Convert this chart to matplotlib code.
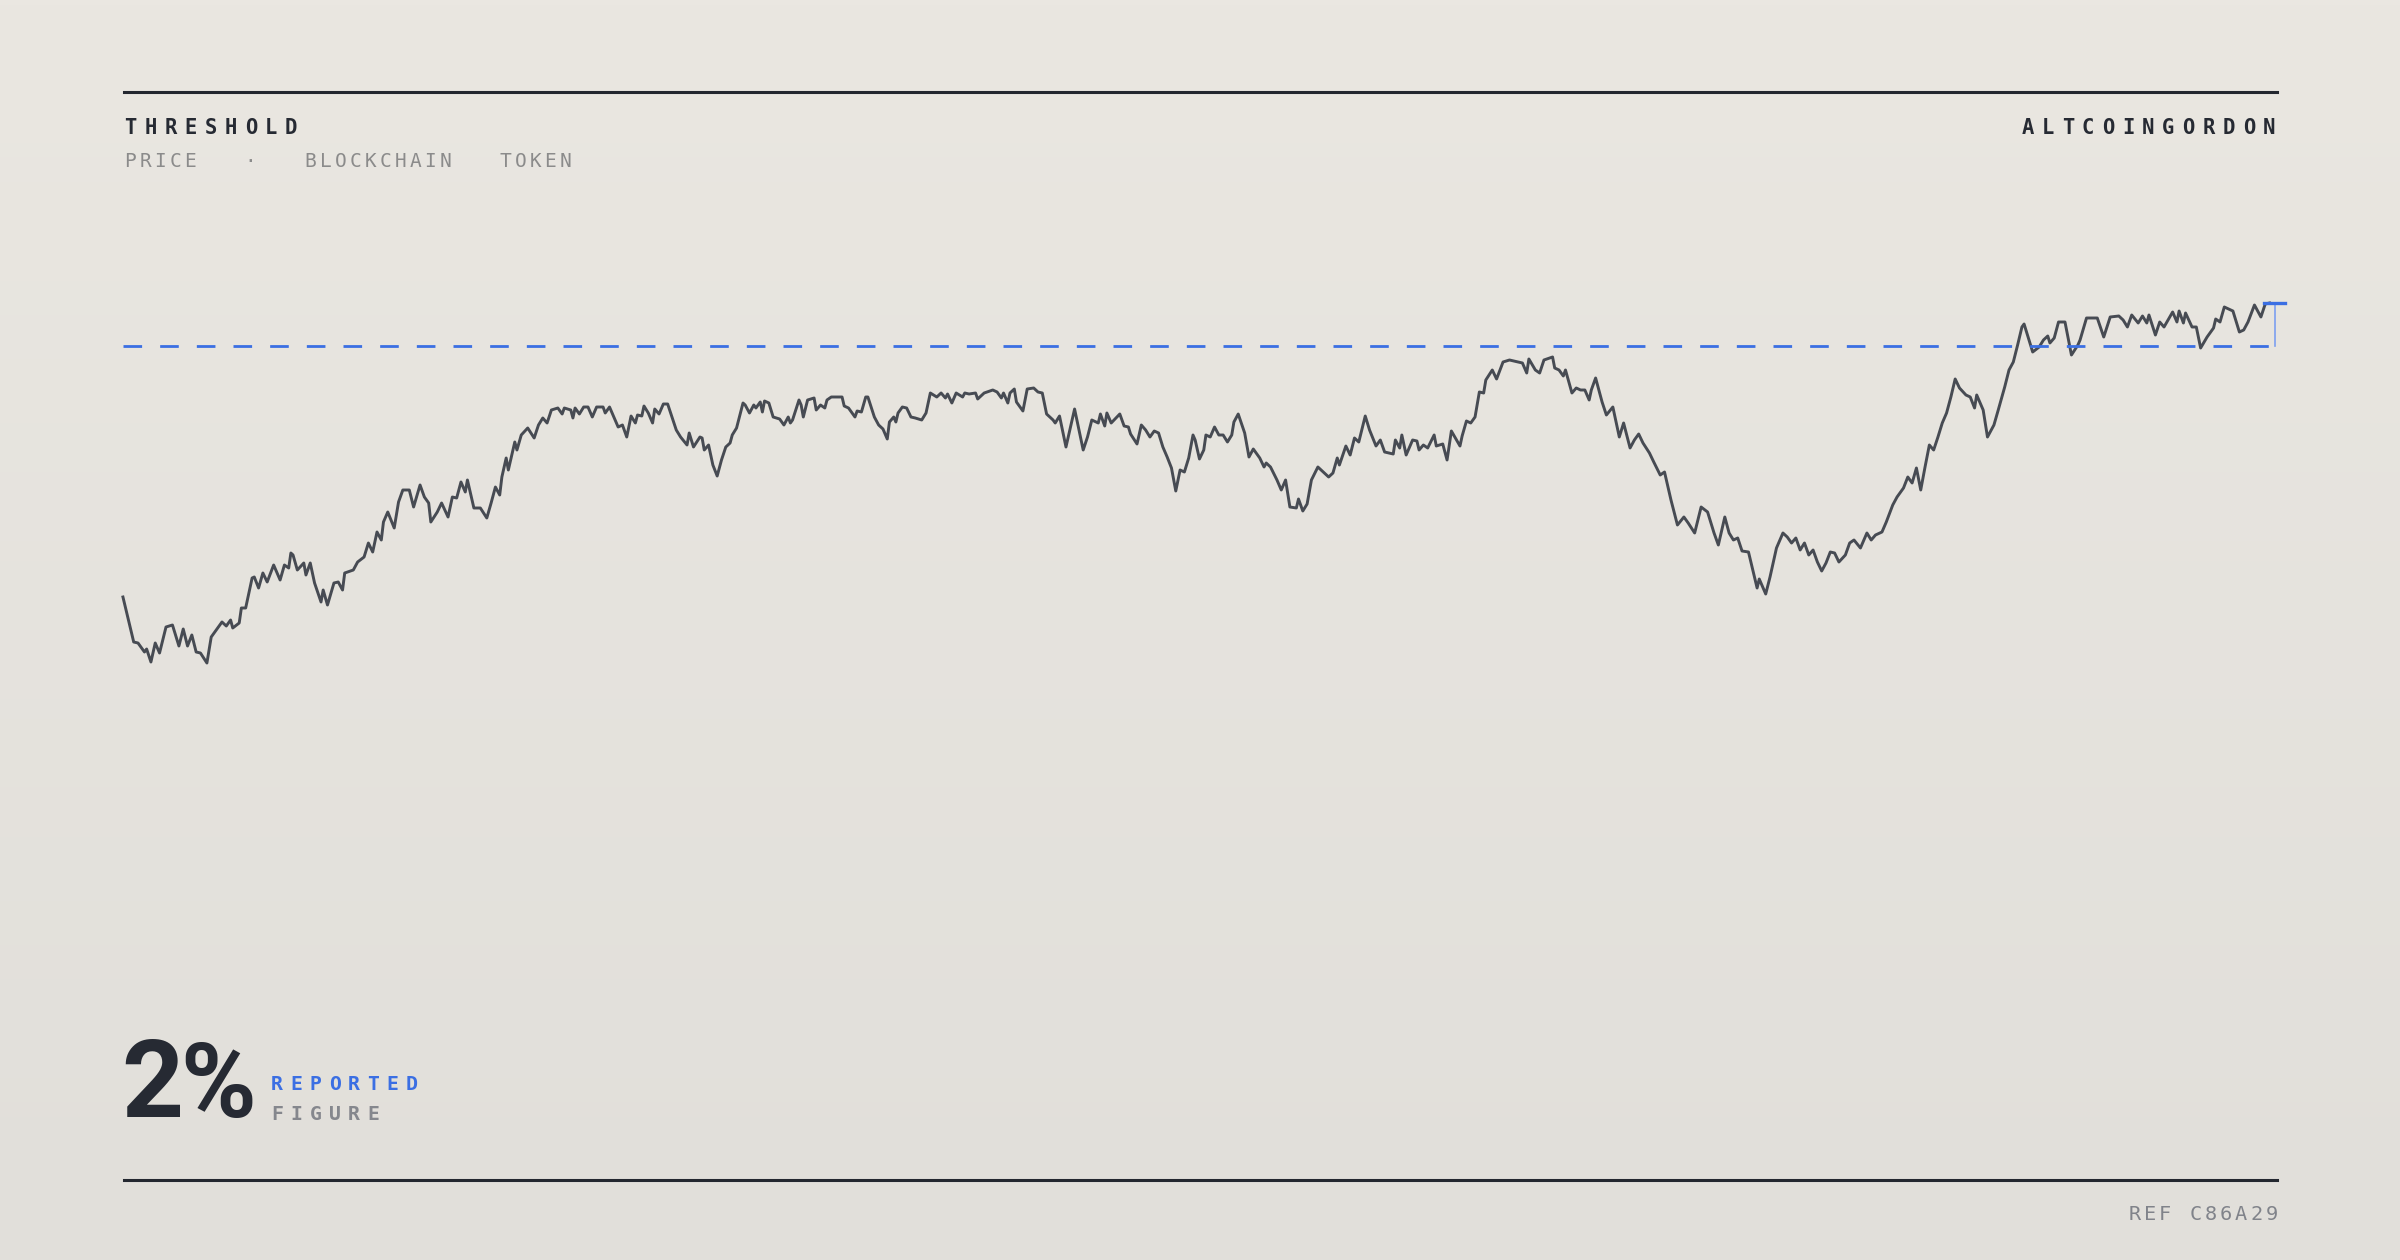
import matplotlib
matplotlib.use("Agg")
import matplotlib.pyplot as plt
import numpy as np

W, H = 2400, 1260

# price readings (day index, price) taken off the chart
days_rise = [
    0, 5, 7, 10, 11, 13, 15, 17, 20, 23,
    26, 28, 30, 32, 34, 36, 39, 41, 44, 46,
    48, 50, 51, 54, 55, 57, 60, 61, 63, 65,
    67, 70, 73, 75, 77, 78, 79, 81, 84, 85,
    87, 89, 92, 93, 95, 98, 100, 102, 103, 107,
    109, 112, 114, 116, 118, 120, 121, 123, 126, 128,
    130, 133, 135, 138, 140, 142, 143, 146, 148, 151,
    153, 155, 157, 159, 160, 163, 166, 169, 171, 173,
    175, 176, 178, 179, 182, 183, 185, 188, 191, 193,
    195, 197, 199, 202, 204, 205, 208, 209, 210, 212,
    214, 216, 218, 220, 223, 224, 226, 230, 232, 234,
    236, 238, 239, 241, 242, 244, 246, 247, 249, 251,
]
price_rise = [
    1899, 1854, 1853, 1844, 1847, 1834, 1853, 1843, 1869, 1871,
    1850, 1867, 1850, 1861, 1844, 1843, 1833, 1859, 1868, 1874,
    1870, 1876, 1868, 1873, 1888, 1888, 1918, 1919, 1908, 1923,
    1914, 1931, 1916, 1931, 1928, 1943, 1941, 1926, 1933, 1921,
    1933, 1913, 1894, 1906, 1891, 1913, 1914, 1906, 1923, 1926,
    1934, 1939, 1953, 1944, 1964, 1956, 1974, 1984, 1968, 1994,
    2006, 2006, 1989, 2011, 1999, 1993, 1974, 1984, 1993, 1979,
    1999, 1998, 2014, 2004, 2016, 1988, 1988, 1978, 1993, 2009,
    2001, 2019, 2038, 2026, 2054, 2046, 2061, 2068, 2058, 2071,
    2078, 2073, 2086, 2088, 2082, 2088, 2086, 2078, 2088, 2082,
    2089, 2089, 2079, 2089, 2089, 2083, 2089, 2069, 2071, 2059,
    2080, 2073, 2081, 2080, 2090, 2083, 2073, 2087, 2082, 2092,
]

days_range = [
    253, 257, 259, 262, 263, 265, 268, 269, 270, 272,
    274, 276, 278, 280, 282, 283, 285, 288, 289, 291,
    293, 294, 296, 297, 298, 300, 302, 305, 307, 309,
    310, 311, 314, 315, 316, 318, 321, 322, 324, 326,
    327, 329, 334, 335, 337, 340, 341, 343, 345, 346,
    349, 351, 353, 355, 356, 358, 359, 360, 362, 364,
    366, 368, 371, 373, 375, 378, 380, 382, 383, 385,
    387, 390, 391, 393, 396, 397, 400, 404, 406, 408,
    409, 411, 412, 414, 415, 418, 420, 423, 425, 427,
    429, 432, 433, 435, 438, 442, 446, 448, 450, 453,
    454, 456, 457, 459, 463, 465, 467, 468, 471, 473,
    475, 477, 479, 481, 483, 485, 487, 489, 491, 493,
    495, 497, 498, 500, 502, 503, 505, 507,
]
price_range = [
    2092, 2066, 2059, 2051, 2063, 2049, 2059, 2058, 2046, 2051,
    2031, 2020, 2036, 2049, 2053, 2061, 2068, 2093, 2091, 2083,
    2091, 2088, 2094, 2084, 2095, 2093, 2079, 2077, 2071, 2079,
    2073, 2076, 2096, 2091, 2079, 2096, 2098, 2086, 2091, 2088,
    2096, 2099, 2099, 2090, 2088, 2079, 2085, 2084, 2099, 2099,
    2079, 2071, 2067, 2057, 2074, 2079, 2074, 2083, 2089, 2088,
    2079, 2078, 2076, 2083, 2103, 2099, 2103, 2098, 2102, 2093,
    2103, 2099, 2103, 2102, 2103, 2097, 2103, 2106, 2104, 2098,
    2103, 2093, 2103, 2107, 2094, 2085, 2107, 2108, 2104, 2103,
    2082, 2076, 2073, 2080, 2049, 2087, 2046, 2059, 2076, 2073,
    2082, 2070, 2083, 2073, 2082, 2070, 2069, 2062, 2052, 2071,
    2066, 2059, 2065, 2063, 2049, 2039, 2028, 2005, 2026, 2024,
    2038, 2061, 2056, 2037, 2046, 2061, 2059, 2069,
]

days_slide = [
    509, 511, 513, 515, 516, 518, 521, 523, 525, 528,
    530, 531, 533, 536, 538, 540, 542, 545, 546, 548,
    550, 552, 555, 557, 560, 562, 564, 565, 568, 570,
    572, 574, 577, 579, 582, 584, 586, 590, 591, 593,
    594, 596, 599, 601, 602, 604, 606, 609, 610, 613,
    615, 617, 621, 622, 624, 626, 628, 630, 632, 633,
    636, 638, 641, 644, 648, 650, 652, 653, 656, 658,
    660, 664, 665, 667, 669, 670, 673, 675, 677, 679,
    681, 682, 684, 687, 689, 692, 695, 697, 700, 702,
    704, 706, 709, 711, 714, 716, 719, 722, 725, 727,
    730, 733, 736, 739, 741, 744, 746, 748, 750, 752,
    755, 759, 760, 763, 765,
]
price_slide = [
    2061, 2061, 2054, 2061, 2074, 2082, 2063, 2039, 2047, 2038,
    2029, 2033, 2029, 2016, 2006, 2016, 1989, 1988, 1997, 1985,
    1992, 2016, 2029, 2025, 2019, 2023, 2038, 2031, 2050, 2041,
    2058, 2054, 2080, 2066, 2050, 2056, 2044, 2042, 2056, 2048,
    2061, 2041, 2056, 2055, 2046, 2051, 2048, 2061, 2050, 2052,
    2036, 2065, 2050, 2060, 2075, 2073, 2079, 2104, 2103, 2116,
    2126, 2117, 2134, 2136, 2134, 2133, 2123, 2137, 2126, 2123,
    2136, 2139, 2128, 2126, 2120, 2126, 2103, 2108, 2106, 2106,
    2096, 2106, 2118, 2094, 2081, 2089, 2059, 2073, 2048, 2056,
    2062, 2053, 2043, 2034, 2021, 2024, 1996, 1971, 1979, 1973,
    1963, 1989, 1984, 1963, 1951, 1979, 1963, 1956, 1958, 1945,
    1944, 1908, 1917, 1902, 1919,
]

days_breakout = [
    768, 771, 773, 775, 777, 779, 781, 783, 785, 787,
    789, 791, 793, 795, 797, 800, 802, 804, 807, 810,
    812, 814, 817, 819, 822, 824, 827, 829, 831, 833,
    835, 837, 839, 841, 843, 845, 847, 849, 851, 853,
    856, 858, 860, 861, 864, 866, 869, 871, 874, 876,
    878, 880, 882, 883, 885, 887, 890, 892, 894, 895,
    897, 899, 902, 905, 908, 909, 912, 917, 920, 923,
    927, 929, 931, 933, 936, 938, 940, 941, 944, 946,
    948, 952, 954, 955, 957, 958, 961, 963, 965, 968,
    971, 972, 974, 976, 980, 983, 985, 987, 990, 993,
    995, 997,
]
price_breakout = [
    1948, 1963, 1959, 1953, 1958, 1946, 1953, 1941, 1946, 1934,
    1925, 1933, 1944, 1943, 1934, 1941, 1953, 1956, 1948, 1963,
    1956, 1961, 1964, 1974, 1991, 1999, 2008, 2019, 2013, 2028,
    2006, 2029, 2051, 2046, 2059, 2073, 2083, 2099, 2117, 2108,
    2101, 2099, 2088, 2101, 2086, 2059, 2071, 2086, 2109, 2126,
    2134, 2151, 2169, 2172, 2158, 2144, 2149, 2156, 2160, 2153,
    2158, 2174, 2174, 2141, 2151, 2156, 2178, 2178, 2159, 2179,
    2180, 2176, 2169, 2181, 2173, 2180, 2173, 2181, 2161, 2174,
    2169, 2184, 2174, 2185, 2173, 2183, 2169, 2169, 2148, 2159,
    2168, 2177, 2174, 2189, 2185, 2164, 2166, 2174, 2191, 2179,
    2192, 2193,
]

threshold = 2150
title = "THRESHOLD"
subtitle = "PRICE   \u00b7   BLOCKCHAIN   TOKEN"
brand = "ALTCOINGORDON"
ref_code = "REF C86A29"

days = days_rise + days_range + days_slide + days_breakout
price = price_rise + price_range + price_slide + price_breakout
assert len(days) == len(price)
pct = round((price[-1] - threshold) / threshold * 100)

ink = "#262a33"
grey = "#85878d"
blue = "#3b6fe3"
mono = "DejaVu Sans Mono"

fig = plt.figure(figsize=(12, 6.3), dpi=200)

# soft vertical background gradient
bg = fig.add_axes([0, 0, 1, 1])
grad = np.linspace(0, 1, 256).reshape(-1, 1)
top_c = np.array([0xea, 0xe7, 0xe1]) / 255
bot_c = np.array([0xe1, 0xdf, 0xda]) / 255
img = top_c[None, None, :] * (1 - grad[:, :, None]) + bot_c[None, None, :] * grad[:, :, None]
bg.imshow(img, aspect="auto", extent=[0, 1, 0, 1])
bg.set_axis_off()

ax = fig.add_axes([0, 0, 1, 1])
ax.patch.set_alpha(0)
ax.set_xlim(-57.1, 1057.6)
ax.set_ylim(1236, 2496)
ax.set_axis_off()

ax.plot(days, price, color="#474b53", lw=1.05, solid_joinstyle="round")

end_day = days[-1]
ax.plot([days[0], end_day + 7], [threshold, threshold], color=blue, lw=1.0,
        dashes=(6.7, 6.5))
ax.plot([end_day + 2.5, end_day + 2.5], [threshold, price[-1]], color="#7d9ff0", lw=0.6)
ax.plot([end_day - 2.6, end_day + 7], [price[-1], price[-1]], color=blue, lw=1.2)


def px(x, y):
    return x / W, 1 - y / H


def tracked(x0, y, s, pitch, **kw):
    # draw letter by letter to get the wide tracking
    for i, ch in enumerate(s):
        if ch != " ":
            fig.text(*px(x0 + i * pitch, y), ch, ha="center", va="baseline", **kw)


# rules
for yy in (92, 1180):
    fig.add_artist(plt.Line2D([124 / W, 2277 / W], [1 - yy / H] * 2, color="#23272f", lw=1.1))

tracked(130.5, 134, title, 20.1, family=mono, fontsize=7.4, fontweight="bold", color=ink)
tracked(2269 - (len(brand) - 1) * 20.1, 134, brand, 20.1, family=mono, fontsize=7.4,
        fontweight="bold", color=ink)
tracked(130.5, 167, subtitle, 15.0, family=mono, fontsize=7.0, color="#8b8b8b")

# big figure, digit and sign placed separately to keep it tight
big = f"{pct}%"
fig.text(*px(121, 1117), big[:-1], family="Roboto", fontweight="bold", fontsize=39,
         color=ink, ha="left", va="baseline")
fig.text(*px(180, 1117), big[-1], family="Roboto", fontweight="bold", fontsize=37,
         color=ink, ha="left", va="baseline")
tracked(277, 1090, "REPORTED", 19.2, family=mono, fontsize=7.1, fontweight="bold", color=blue)
tracked(277, 1120, "FIGURE", 19.2, family=mono, fontsize=7.1, fontweight="bold", color=grey)

tracked(2271.5 - (len(ref_code) - 1) * 15.2, 1220, ref_code, 15.2, family=mono, fontsize=7.3,
        color="#80838a")

fig.savefig("out.png", dpi=200)
